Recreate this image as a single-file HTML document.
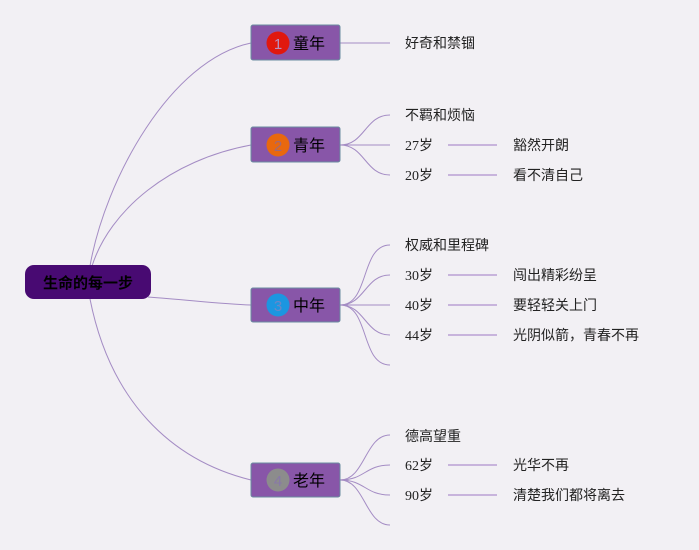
<!DOCTYPE html>
<html><head><meta charset="utf-8"><style>
body{margin:0;background:#f2f0f4;}
svg{display:block}
text{font-family:"Liberation Sans","Noto Sans CJK SC",sans-serif;}
.n{font-family:"Liberation Serif","Noto Sans CJK SC",serif;}
</style></head><body>
<svg width="699" height="550" viewBox="0 0 699 550" xmlns="http://www.w3.org/2000/svg">
<g fill="none" stroke="#a48cc4" stroke-width="1">
<path d="M90,266 C105,180 170,60 251,43"/>
<path d="M92,266 C110,210 170,160 251,145"/>
<path d="M148,297 C190,300 220,304 251,305"/>
<path d="M90,299 C110,400 170,460 251,480"/>
<path d="M340,43 L390,43"/>
<path d="M340,145 C365,145 365,115 390,115"/>
<path d="M340,145 L390,145"/>
<path d="M340,145 C365,145 365,175 390,175"/>
<path d="M340,305 C370,305 360,245 390,245"/>
<path d="M340,305 C365,305 365,275 390,275"/>
<path d="M340,305 L390,305"/>
<path d="M340,305 C365,305 365,335 390,335"/>
<path d="M340,305 C370,305 360,365 390,365"/>
<path d="M340,480 C365,480 365,435 390,435"/>
<path d="M340,480 C365,480 365,465 390,465"/>
<path d="M340,480 C365,480 365,495 390,495"/>
<path d="M340,480 C365,480 365,525 390,525"/>
</g>
<g stroke="#c8b4dc" stroke-width="2">
<line x1="448" y1="145" x2="497" y2="145"/>
<line x1="448" y1="175" x2="497" y2="175"/>
<line x1="448" y1="275" x2="497" y2="275"/>
<line x1="448" y1="305" x2="497" y2="305"/>
<line x1="448" y1="335" x2="497" y2="335"/>
<line x1="448" y1="465" x2="497" y2="465"/>
<line x1="448" y1="495" x2="497" y2="495"/>
</g>
<rect x="25" y="265" width="126" height="34" rx="9" fill="#480a72"/>
<text x="88" y="288" font-size="15" font-weight="bold" text-anchor="middle" fill="#000">生命的每一步</text>
<g stroke="#6a8ca0" stroke-width="1" fill="#8856a8">
<rect x="251" y="25" width="89" height="35" rx="2"/>
<rect x="251" y="127" width="89" height="35" rx="2"/>
<rect x="251" y="288" width="89" height="34" rx="2"/>
<rect x="251" y="463" width="89" height="34" rx="2"/>
</g>
<circle cx="278" cy="43" r="11.5" fill="#e0180e"/>
<circle cx="278" cy="145" r="11.5" fill="#e8680e"/>
<circle cx="278" cy="305" r="11.5" fill="#1c96e0"/>
<circle cx="278" cy="480" r="11.5" fill="#8c8c8c"/>
<g font-size="15" text-anchor="middle">
<text x="278" y="49" fill="#b890c0">1</text>
<text x="278" y="151" fill="#a06878">2</text>
<text x="278" y="311" fill="#6a88c8">3</text>
<text x="278" y="486" fill="#8878a8">4</text>
</g>
<g font-size="16" fill="#000">
<text x="293" y="49">童年</text>
<text x="293" y="151">青年</text>
<text x="293" y="311">中年</text>
<text x="293" y="486">老年</text>
</g>
<g font-size="14" fill="#222">
<text x="405" y="48">好奇和禁锢</text>
<text x="405" y="120">不羁和烦恼</text>
<text class="n" x="405" y="150">27岁</text>
<text class="n" x="405" y="180">20岁</text>
<text x="513" y="150">豁然开朗</text>
<text x="513" y="180">看不清自己</text>
<text x="405" y="250">权威和里程碑</text>
<text class="n" x="405" y="280">30岁</text>
<text class="n" x="405" y="310">40岁</text>
<text class="n" x="405" y="340">44岁</text>
<text x="513" y="280">闯出精彩纷呈</text>
<text x="513" y="310">要轻轻关上门</text>
<text x="513" y="340">光阴似箭，青春不再</text>
<text x="405" y="441">德高望重</text>
<text class="n" x="405" y="470">62岁</text>
<text class="n" x="405" y="500">90岁</text>
<text x="513" y="470">光华不再</text>
<text x="513" y="500">清楚我们都将离去</text>
</g>
</svg>
</body></html>
